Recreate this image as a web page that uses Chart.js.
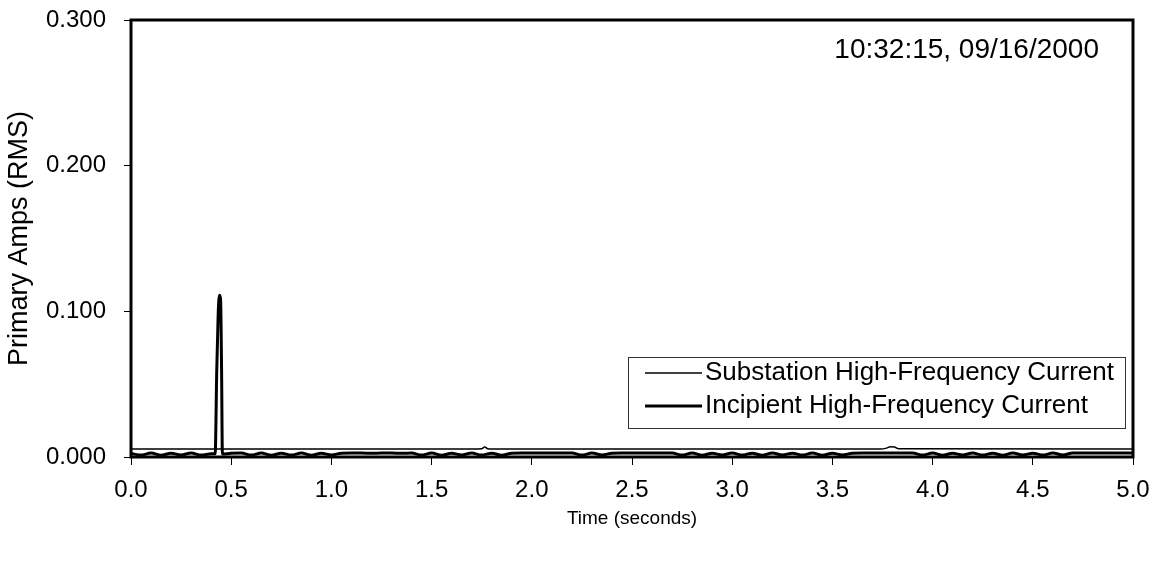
<!DOCTYPE html>
<html>
<head>
<meta charset="utf-8">
<script src="https://cdn.jsdelivr.net/npm/chart.js@4.4.1/dist/chart.umd.min.js"></script>
<style>
  html, body { margin: 0; padding: 0; background: #fff; }
  #wrap { width: 1159px; height: 561px; position: relative; }
</style>
</head>
<body>
<div id="wrap"><canvas id="hfChart"></canvas></div>
<script>
const timeTicks = [0, 0.5, 1, 1.5, 2, 2.5, 3, 3.5, 4, 4.5, 5];
const ampTicks = [0, 0.1, 0.2, 0.3];

const seriesNames = ["Substation High-Frequency Current", "Incipient High-Frequency Current"];
const stampText = "10:32:15, 09/16/2000";

const substationTime = [0, 1.7, 1.75, 1.765, 1.78, 1.8, 3.74, 3.77, 3.79, 3.81, 3.83, 5];
const substationAmps = [0.0055, 0.0055, 0.0057, 0.0069, 0.0057, 0.0055, 0.0055, 0.0061, 0.0071, 0.0069, 0.0057, 0.0055];

const incipientTime = [
  0, 0.05, 0.1, 0.15, 0.2, 0.25, 0.3, 0.35, 0.4,
  0.42, 0.428, 0.435, 0.442, 0.447, 0.452, 0.456,
  0.5, 0.55, 0.6, 0.65, 0.7, 0.75, 0.8, 0.85, 0.9, 0.95, 1.0, 1.05,
  1.1, 1.15, 1.2, 1.25, 1.3, 1.35, 1.4,
  1.45, 1.5, 1.55, 1.6, 1.65, 1.7, 1.75, 1.8, 1.85, 1.9,
  1.95, 2.0, 2.05, 2.1, 2.15, 2.2,
  2.25, 2.3, 2.35, 2.4,
  2.45, 2.5, 2.55, 2.6, 2.65, 2.7,
  2.75, 2.8, 2.85, 2.9, 2.95, 3.0, 3.05, 3.1, 3.15, 3.2, 3.25, 3.3, 3.35, 3.4, 3.45, 3.5, 3.55, 3.6,
  3.65, 3.7, 3.75, 3.8, 3.85, 3.9,
  3.95, 4.0, 4.05, 4.1, 4.15, 4.2, 4.25, 4.3, 4.35, 4.4, 4.45, 4.5, 4.55, 4.6, 4.65,
  4.7, 4.75, 4.8, 4.85, 4.9, 4.95, 5.0
];
const incipientAmps = [
  0.0024, 0.0013, 0.0027, 0.0012, 0.0026, 0.0014, 0.0027, 0.0013, 0.0022,
  0.0022, 0.060, 0.098, 0.111, 0.108, 0.060, 0.0020,
  0.0026, 0.0027, 0.0013, 0.0027, 0.0012, 0.0026, 0.0013, 0.0027, 0.0012, 0.0026, 0.0014, 0.0026,
  0.0027, 0.0027, 0.0026, 0.0027, 0.0027, 0.0026, 0.0027,
  0.0013, 0.0027, 0.0012, 0.0026, 0.0014, 0.0027, 0.0013, 0.0026, 0.0012, 0.0026,
  0.0027, 0.0027, 0.0027, 0.0027, 0.0027, 0.0027,
  0.0013, 0.0027, 0.0014, 0.0026,
  0.0027, 0.0027, 0.0027, 0.0027, 0.0027, 0.0027,
  0.0013, 0.0027, 0.0012, 0.0026, 0.0014, 0.0027, 0.0013, 0.0026, 0.0012, 0.0027, 0.0014, 0.0026, 0.0013, 0.0027, 0.0012, 0.0026, 0.0014, 0.0026,
  0.0027, 0.0027, 0.0027, 0.0027, 0.0027, 0.0027,
  0.0013, 0.0027, 0.0012, 0.0026, 0.0014, 0.0027, 0.0013, 0.0026, 0.0012, 0.0027, 0.0014, 0.0026, 0.0013, 0.0027, 0.0014,
  0.0027, 0.0027, 0.0027, 0.0027, 0.0027, 0.0027, 0.0027
];

const fontFamily = "'Liberation Sans', Arial, sans-serif";

function toPoints(xs, ys) {
  return xs.map((x, i) => ({ x: x, y: ys[i] }));
}

// frame, legend box and timestamp drawn on top of the plot
const decorPlugin = {
  id: "decor",
  afterDatasetsDraw(chart) {
    const { ctx, chartArea } = chart;
    ctx.save();
    ctx.strokeStyle = "#000";
    ctx.lineWidth = 3;
    ctx.strokeRect(chartArea.left, chartArea.top, chartArea.right - chartArea.left, chartArea.bottom - chartArea.top);

    ctx.fillStyle = "#000";
    ctx.textBaseline = "middle";
    ctx.textAlign = "right";
    ctx.font = "28px " + fontFamily;
    ctx.fillText(stampText, 1099, 50);

    ctx.fillStyle = "#fff";
    ctx.fillRect(628.5, 357.5, 497, 71);
    ctx.lineWidth = 1;
    ctx.strokeStyle = "#333";
    ctx.strokeRect(628.5, 357.5, 497, 71);

    const rows = [373, 406];
    const widths = [1.5, 3];
    ctx.textAlign = "left";
    ctx.font = "26px " + fontFamily;
    rows.forEach((y, i) => {
      ctx.strokeStyle = "#000";
      ctx.lineWidth = widths[i];
      ctx.beginPath();
      ctx.moveTo(645, y);
      ctx.lineTo(702, y);
      ctx.stroke();
      ctx.fillStyle = "#000";
      ctx.fillText(seriesNames[i], 705, y);
    });
    ctx.restore();
  },
};

new Chart(document.getElementById("hfChart"), {
  type: "line",
  data: {
    datasets: [
      {
        label: seriesNames[0],
        data: toPoints(substationTime, substationAmps),
        borderColor: "#000",
        borderWidth: 1.5,
        pointRadius: 0,
        cubicInterpolationMode: "monotone",
      },
      {
        label: seriesNames[1],
        data: toPoints(incipientTime, incipientAmps),
        borderColor: "#000",
        borderWidth: 3,
        pointRadius: 0,
        cubicInterpolationMode: "monotone",
      },
    ],
  },
  options: {
    responsive: true,
    maintainAspectRatio: false,
    animation: false,
    layout: {
      padding: { top: 20, right: 26, left: 0, bottom: 0 },
    },
    plugins: {
      legend: { display: false },
      tooltip: { enabled: false },
    },
    scales: {
      x: {
        type: "linear",
        min: 0,
        max: 5,
        afterFit(scale) {
          scale.height = 104;
          scale.paddingLeft = 0;
          scale.paddingRight = 0;
        },
        afterBuildTicks(scale) {
          scale.ticks = timeTicks.map((v) => ({ value: v }));
        },
        border: { display: false },
        grid: {
          drawOnChartArea: false,
          drawTicks: true,
          tickLength: 8,
          color: "#000",
          lineWidth: 1,
        },
        ticks: {
          color: "#000",
          padding: 11,
          maxRotation: 0,
          font: { family: fontFamily, size: 24 },
          callback(value) {
            return Number(value).toFixed(1);
          },
        },
        title: {
          display: true,
          text: "Time (seconds)",
          color: "#000",
          font: { family: fontFamily, size: 19 },
          padding: { top: 0, bottom: 31 },
        },
      },
      y: {
        min: 0,
        max: 0.3,
        afterFit(scale) {
          scale.width = 131;
          scale.paddingTop = 0;
          scale.paddingBottom = 0;
        },
        afterBuildTicks(scale) {
          scale.ticks = ampTicks.map((v) => ({ value: v }));
        },
        border: { display: false },
        grid: {
          drawOnChartArea: false,
          drawTicks: true,
          tickLength: 7,
          color: "#000",
          lineWidth: 1,
        },
        ticks: {
          color: "#000",
          padding: 18,
          font: { family: fontFamily, size: 24 },
          callback(value) {
            return Number(value).toFixed(3);
          },
        },
        title: {
          display: true,
          text: "Primary Amps (RMS)",
          color: "#000",
          font: { family: fontFamily, size: 27 },
          padding: { top: 3, bottom: 3 },
        },
      },
    },
  },
  plugins: [decorPlugin],
});
</script>
</body>
</html>
